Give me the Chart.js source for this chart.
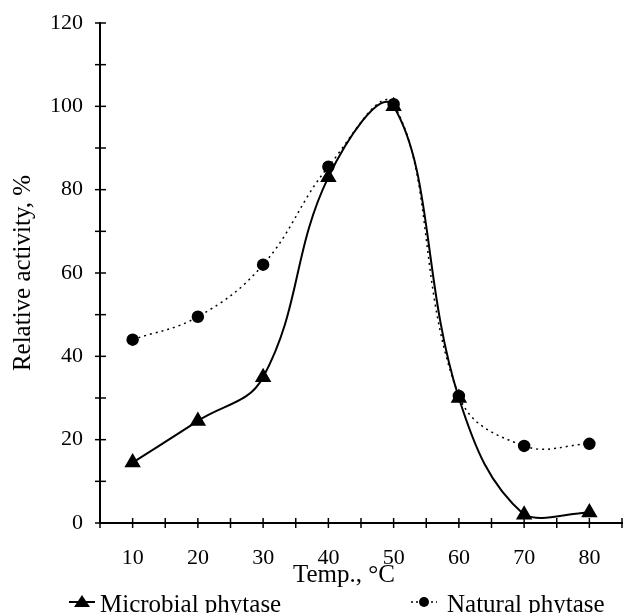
<!DOCTYPE html>
<html>
<head>
<meta charset="utf-8">
<script src="https://cdn.jsdelivr.net/npm/chart.js@4"></script>
<style>
  html, body { margin: 0; padding: 0; background: #fff; overflow: hidden; }
  #wrap { position: relative; width: 623px; height: 613px; font-family: 'Liberation Serif', 'Times New Roman', serif; color: #000; }
  #chart { position: absolute; left: 0; top: 0; }
  .txt { position: absolute; white-space: nowrap; font-size: 25px; line-height: 25px; }
  .leg svg { position: absolute; }
</style>
</head>
<body>
<div id="wrap">
  <canvas id="chart" width="623" height="613"></canvas>
  <div class="txt" id="xTitle" style="left:293px; top:561px;">Temp., °C</div>
  <div class="leg">
    <svg style="left:68px; top:594px;" width="28" height="16">
      <line x1="1" y1="8" x2="27" y2="8" stroke="#000" stroke-width="2"/>
      <polygon points="14,1 22,13 6,13" fill="#000"/>
    </svg>
    <div class="txt" style="left:100px; top:591px;">Microbial phytase</div>
    <svg style="left:410px; top:594px;" width="28" height="16">
      <line x1="1" y1="8" x2="27" y2="8" stroke="#000" stroke-width="1.5" stroke-dasharray="2,3"/>
      <circle cx="14" cy="8" r="5" fill="#000"/>
    </svg>
    <div class="txt" style="left:447px; top:591px;">Natural phytase</div>
  </div>
</div>
<script>
// temperatures, °C
const temps = [10, 20, 30, 40, 50, 60, 70, 80];
// relative activity, %
const microbial = [14.5, 24.5, 35, 83, 100, 30, 2, 2.5];
const natural = [44, 49.5, 62, 85.5, 100.5, 30.5, 18.5, 19];
const xLabels = [10, 20, 30, 40, 50, 60, 70, 80];
const yLabels = [0, 20, 40, 60, 80, 100, 120];

const serif = "'Liberation Serif', 'Times New Roman', serif";

// small tick marks crossing both axes
const crossTicks = {
    id: 'crossTicks',
    afterDraw(chart) {
        const ctx = chart.ctx;
        const xs = chart.scales.x;
        const ys = chart.scales.y;
        const area = chart.chartArea;
        ctx.save();
        ctx.strokeStyle = '#000';
        ctx.lineWidth = 1.5;
        ys.ticks.forEach(t => {
            const py = ys.getPixelForValue(t.value);
            ctx.beginPath();
            ctx.moveTo(area.left - 5, py);
            ctx.lineTo(area.left + 6, py);
            ctx.stroke();
        });
        xs.ticks.forEach(t => {
            const px = xs.getPixelForValue(t.value);
            ctx.beginPath();
            ctx.moveTo(px, area.bottom - 5);
            ctx.lineTo(px, area.bottom + 5);
            ctx.stroke();
        });
        ctx.restore();
    }
};

new Chart(document.getElementById('chart'), {
    type: 'line',
    data: {
        datasets: [
            {
                label: 'Natural phytase',
                data: temps.map((t, i) => ({ x: t, y: natural[i] })),
                borderColor: '#000',
                backgroundColor: '#000',
                borderWidth: 1.5,
                borderDash: [2, 4],
                pointStyle: 'circle',
                pointRadius: 5.5,
                tension: 0.4,
                clip: false
            },
            {
                label: 'Microbial phytase',
                data: temps.map((t, i) => ({ x: t, y: microbial[i] })),
                borderColor: '#000',
                backgroundColor: '#000',
                borderWidth: 2,
                pointStyle: 'triangle',
                pointRadius: 7.5,
                tension: 0.4,
                clip: false
            }
        ]
    },
    options: {
        responsive: false,
        animation: false,
        layout: { autoPadding: false, padding: { top: 23, right: 1, bottom: 0, left: 0 } },
        plugins: {
            legend: { display: false },
            tooltip: { enabled: false }
        },
        scales: {
            x: {
                type: 'linear',
                min: 5,
                max: 85,
                grid: { display: false },
                border: { display: true, color: '#000', width: 2 },
                ticks: {
                    stepSize: 5,
                    padding: 14,
                    color: '#000',
                    maxRotation: 0,
                    autoSkip: false,
                    font: { family: serif, size: 22 },
                    callback: v => xLabels.includes(v) ? String(v) : ''
                },
                afterFit: s => {
                    s.height = 90;
                    s.paddingLeft = 0;
                    s.paddingRight = 0;
                }
            },
            y: {
                min: 0,
                max: 120,
                grid: { display: false },
                border: { display: true, color: '#000', width: 2 },
                ticks: {
                    stepSize: 10,
                    padding: 9,
                    color: '#000',
                    autoSkip: false,
                    font: { family: serif, size: 22 },
                    callback: v => yLabels.includes(v) ? String(v) : ''
                },
                title: {
                    display: true,
                    text: 'Relative activity, %',
                    color: '#000',
                    font: { family: serif, size: 25 },
                    padding: { top: 8, bottom: 0 }
                },
                afterFit: s => { s.width = 100; }
            }
        }
    },
    plugins: [crossTicks]
});
</script>
</body>
</html>
